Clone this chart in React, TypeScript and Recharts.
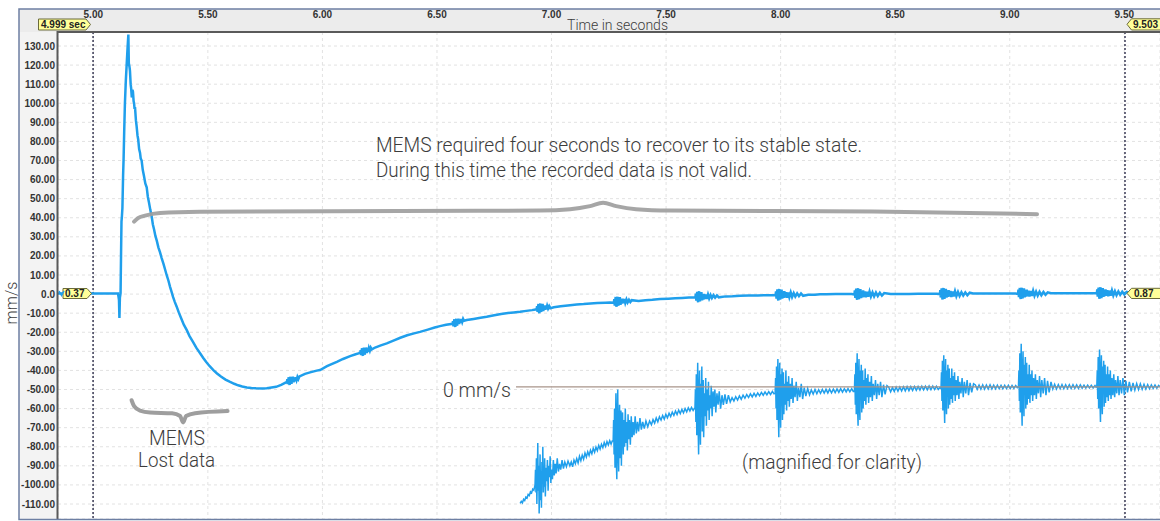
import React from "react";
import {
  ComposedChart,
  Line,
  XAxis,
  YAxis,
  CartesianGrid,
  ReferenceLine,
} from "recharts";

type Pt = [number, number];

// ---- axes ----
const T_MIN = 4.8459;
const T_MAX = 9.6558;
const V_MIN = -117.86;
const V_MAX = 137.34;
const xTicks = [5.0, 5.5, 6.0, 6.5, 7.0, 7.5, 8.0, 8.5, 9.0, 9.5];
const yTicks = [130, 120, 110, 100, 90, 80, 70, 60, 50, 40, 30, 20, 10, 0, -10, -20, -30, -40, -50, -60, -70, -80, -90, -100, -110];
const cursorStart = 4.999;
const cursorEnd = 9.503;

// ---- main recorded signal (time s, mm/s) ----
const mainImpact: Pt[] = [
  [4.846, 0.37], [4.9, 0.4], [5.0, 0.37], [5.06, 0.35], [5.108, 0.3], [5.112, -3], [5.114, -12.5], [5.116, -2],
  [5.119, 0.5], [5.121, 20], [5.123, 38], [5.125, 41], [5.127, 45], [5.13, 62], [5.132, 70], [5.135, 86],
  [5.138, 100], [5.142, 112], [5.146, 121], [5.15, 130], [5.153, 136], [5.155, 121], [5.158, 119], [5.16, 117],
  [5.163, 110], [5.165, 108], [5.168, 103], [5.171, 107], [5.173, 106], [5.176, 101], [5.178, 100], [5.18, 97],
  [5.182, 98], [5.186, 91], [5.189, 88], [5.193, 83], [5.196, 81], [5.2, 76], [5.204, 74], [5.207, 71],
  [5.211, 70], [5.216, 65], [5.221, 62], [5.227, 58], [5.233, 56], [5.238, 51], [5.243, 48], [5.249, 44],
  [5.255, 40.5], [5.26, 36.5], [5.265, 34], [5.271, 30.5], [5.277, 28], [5.284, 24.5], [5.291, 22], [5.298, 19],
  [5.306, 16], [5.313, 13], [5.32, 10], [5.328, 7], [5.335, 3.8], [5.342, 1], [5.348, -1.5], [5.356, -4.2],
  [5.364, -6.6], [5.373, -9.6], [5.383, -12.5], [5.395, -16], [5.408, -18.9], [5.42, -22], [5.435, -25], [5.45, -28.2],
  [5.466, -31], [5.48, -33.5], [5.492, -35.5], [5.508, -37.8], [5.524, -39.8], [5.54, -41.6], [5.557, -43.2], [5.577, -44.8],
  [5.597, -46], [5.615, -47], [5.632, -47.8], [5.65, -48.4], [5.67, -48.9], [5.69, -49.2], [5.71, -49.4], [5.735, -49.5],
  [5.757, -49.4], [5.778, -49], [5.798, -48.6], [5.82, -47.6], [5.841, -46.3],
];

const mainMid: Pt[] = [
  [5.845, -46.0], [5.847, -44.6], [5.849, -47.2], [5.851, -45.2], [5.853, -43.6], [5.855, -46.8], [5.857, -47.6], [5.859, -44.4],
  [5.861, -43.4], [5.863, -46.1], [5.865, -47.0], [5.867, -44.0], [5.869, -45.5], [5.871, -43.3], [5.874, -46.2], [5.877, -44.2],
  [5.88, -45.6], [5.883, -43.6], [5.887, -45.1], [5.891, -43.4], [5.895, -44.5],
  [5.9, -43.1], [5.924, -41.8], [5.95, -40.9], [5.975, -40.1], [5.99, -39.8], [6.02, -37.8], [6.04, -36.7], [6.063, -35.5],
  [6.09, -34], [6.121, -32.5], [6.145, -31.5],
  [6.165, -30.8], [6.167, -29.4], [6.169, -32.0], [6.171, -30.0], [6.173, -28.4], [6.175, -31.6], [6.177, -32.3], [6.179, -29.0],
  [6.181, -28.1], [6.183, -30.8], [6.185, -31.7], [6.187, -28.7], [6.189, -30.2], [6.191, -28.0], [6.194, -30.9], [6.197, -28.9],
  [6.2, -30.2], [6.203, -28.3], [6.207, -29.7], [6.211, -28.1], [6.215, -29.0],
  [6.23, -28], [6.255, -26.9], [6.281, -25.8], [6.31, -24.4], [6.34, -22.9], [6.37, -21.6], [6.4, -20.6], [6.426, -19.8],
  [6.46, -18.6], [6.49, -17.5], [6.513, -16.8], [6.54, -16.1],
  [6.568, -15.6], [6.57, -14.2], [6.572, -16.9], [6.574, -14.8], [6.576, -13.2], [6.578, -16.4], [6.58, -17.2], [6.582, -13.9],
  [6.584, -13.0], [6.586, -15.7], [6.588, -16.5], [6.59, -13.5], [6.592, -15.0], [6.594, -12.9], [6.597, -15.7], [6.6, -13.7],
  [6.603, -15.0], [6.606, -13.1], [6.61, -14.6], [6.614, -13.0], [6.618, -14.0],
  [6.63, -13.6], [6.66, -13.0], [6.69, -12.4], [6.717, -11.9], [6.75, -11.1], [6.78, -10.4], [6.81, -9.9], [6.835, -9.6],
  [6.863, -9.3], [6.89, -8.8], [6.915, -8.4],
  [6.935, -8.0], [6.937, -6.3], [6.939, -9.4], [6.941, -7.1], [6.943, -5.2], [6.945, -9.0], [6.947, -10.0], [6.949, -6.1],
  [6.951, -5.0], [6.953, -8.3], [6.955, -9.4], [6.957, -5.6], [6.959, -7.4], [6.961, -5.1], [6.964, -8.9], [6.967, -6.3],
  [6.97, -8.2], [6.973, -5.9], [6.977, -8.0], [6.981, -6.1], [6.985, -7.6], [6.99, -6.3], [6.995, -7.4],
];

const mainLate: Pt[] = [
  [7.01, -6.9], [7.04, -6.4], [7.081, -5.8], [7.11, -5.4], [7.14, -5.2], [7.17, -4.9], [7.2, -4.7], [7.235, -4.5], [7.255, -4.4],
  [7.272, -4.5], [7.274, -2.6], [7.276, -6.0], [7.278, -3.5], [7.28, -1.5], [7.282, -5.7], [7.284, -6.6], [7.286, -2.3],
  [7.288, -1.4], [7.29, -5.0], [7.292, -6.1], [7.294, -2.0], [7.296, -4.1], [7.298, -1.6], [7.301, -5.6], [7.304, -2.6],
  [7.307, -5.0], [7.31, -2.4], [7.314, -4.8], [7.318, -2.6], [7.322, -4.6], [7.327, -2.8], [7.332, -4.4], [7.338, -3.0],
  [7.344, -4.2], [7.35, -3.2],
  [7.38, -3.6], [7.41, -3.2], [7.44, -3.0], [7.474, -2.6], [7.51, -2.4], [7.54, -2.2], [7.57, -2.0], [7.6, -1.8],
  [7.628, -1.8], [7.63, 0.2], [7.632, -3.4], [7.634, -0.8], [7.636, 1.2], [7.638, -3.2], [7.64, -4.2], [7.642, 0.4],
  [7.644, 1.4], [7.646, -2.5], [7.648, -3.8], [7.65, 0.6], [7.652, -1.5], [7.654, 1.1], [7.657, -3.3], [7.66, -0.3],
  [7.663, -2.9], [7.666, 0.1], [7.67, -2.6], [7.674, -0.2], [7.678, -2.5], [7.683, -0.3], [7.688, -2.3], [7.694, -0.5],
  [7.7, -2.1], [7.707, -0.6], [7.714, -1.9], [7.722, -0.7], [7.73, -1.7],
  [7.76, -1.2], [7.79, -1.1], [7.823, -0.9], [7.86, -0.8], [7.9, -0.7], [7.94, -0.6], [7.965, -0.6],
  [7.978, -0.6], [7.98, 1.4], [7.982, -2.4], [7.984, 0.3], [7.986, 2.5], [7.988, -2.2], [7.99, -3.3], [7.992, 1.6],
  [7.994, 2.6], [7.996, -1.4], [7.998, -2.9], [8.0, 1.8], [8.002, -0.3], [8.004, 2.3], [8.007, -2.4], [8.01, 0.9],
  [8.013, -2.0], [8.016, 1.5], [8.02, -1.8], [8.024, 1.0], [8.028, -1.9], [8.033, 0.8], [8.038, -1.6], [8.044, 0.9],
  [8.05, -1.5], [8.057, 0.5], [8.064, -1.3], [8.072, 0.4], [8.08, -1.1], [8.089, 0.3], [8.098, -0.9],
  [8.12, -0.3], [8.15, -0.3], [8.172, -0.1], [8.2, -0.1], [8.24, 0], [8.28, 0], [8.31, 0],
  [8.322, -0.2], [8.324, 1.9], [8.326, -2.0], [8.328, 0.8], [8.33, 2.9], [8.332, -1.8], [8.334, -3.0], [8.336, 2.0],
  [8.338, 3.0], [8.34, -1.1], [8.342, -2.7], [8.344, 2.2], [8.346, 0.1], [8.348, 2.6], [8.351, -2.1], [8.354, 1.3],
  [8.357, -1.7], [8.36, 1.9], [8.364, -1.5], [8.368, 1.4], [8.372, -1.7], [8.377, 1.2], [8.382, -1.4], [8.388, 1.3],
  [8.394, -1.3], [8.401, 0.9], [8.408, -1.2], [8.416, 0.8], [8.424, -1.0], [8.433, 0.7], [8.442, -0.8], [8.452, 0.5],
  [8.48, 0.1], [8.521, 0.1], [8.56, 0.1], [8.6, 0.2], [8.64, 0.2], [8.68, 0.2],
  [8.695, 0.0], [8.697, 2.1], [8.699, -1.8], [8.701, 1.0], [8.703, 3.0], [8.705, -1.6], [8.707, -2.8], [8.709, 2.2],
  [8.711, 3.1], [8.713, -0.9], [8.715, -2.5], [8.717, 2.4], [8.719, 0.3], [8.721, 2.8], [8.724, -1.9], [8.727, 1.5],
  [8.73, -1.5], [8.733, 2.1], [8.737, -1.3], [8.741, 1.6], [8.745, -1.5], [8.75, 1.4], [8.755, -1.2], [8.761, 1.5],
  [8.767, -1.1], [8.774, 1.1], [8.781, -1.0], [8.789, 1.0], [8.797, -0.8], [8.806, 0.9], [8.815, -0.6], [8.825, 0.7],
  [8.84, 0.3], [8.87, 0.3], [8.892, 0.3], [8.93, 0.3], [8.97, 0.3], [9.0, 0.3], [9.025, 0.3],
  [9.036, 0.1], [9.038, 2.3], [9.04, -1.6], [9.042, 1.2], [9.044, 3.2], [9.046, -1.4], [9.048, -2.6], [9.05, 2.4],
  [9.052, 3.3], [9.054, -0.7], [9.056, -2.3], [9.058, 2.6], [9.06, 0.5], [9.062, 3.0], [9.065, -1.7], [9.068, 1.7],
  [9.071, -1.3], [9.074, 2.3], [9.078, -1.1], [9.082, 1.8], [9.086, -1.3], [9.091, 1.6], [9.096, -1.0], [9.102, 1.7],
  [9.108, -0.9], [9.115, 1.3], [9.122, -0.8], [9.13, 1.2], [9.138, -0.6], [9.147, 1.1], [9.156, -0.4], [9.166, 0.9],
  [9.18, 0.5], [9.22, 0.4], [9.26, 0.5], [9.3, 0.4], [9.34, 0.5], [9.37, 0.5],
  [9.38, 0.3], [9.382, 2.5], [9.384, -1.4], [9.386, 1.4], [9.388, 3.4], [9.39, -1.2], [9.392, -2.4], [9.394, 2.6],
  [9.396, 3.5], [9.398, -0.5], [9.4, -2.1], [9.402, 2.8], [9.404, 0.7], [9.406, 3.2], [9.409, -1.5], [9.412, 1.9],
  [9.415, -1.1], [9.418, 2.5], [9.422, -0.9], [9.426, 2.0], [9.43, -1.1], [9.435, 1.8], [9.44, -0.8], [9.446, 1.9],
  [9.452, -0.7], [9.459, 1.5], [9.466, -0.6], [9.474, 1.4], [9.482, -0.4], [9.491, 1.3], [9.5, -0.2], [9.51, 1.1],
  [9.525, 0.7], [9.56, 0.8], [9.6, 0.7], [9.656, 0.8],
];

// ---- magnified trace (drawn against its own "0 mm/s" line at -48.6) ----
const magEarly: Pt[] = [
  [6.863, -109.7], [6.868, -108.6], [6.873, -109.4], [6.878, -107.5], [6.883, -108.2], [6.888, -106.4], [6.893, -106.9], [6.898, -105],
  [6.903, -105.6], [6.908, -103.6], [6.913, -104.2], [6.918, -102.2], [6.923, -102.8], [6.926, -101],
  [6.928, -100], [6.93, -92], [6.932, -104], [6.934, -86], [6.936, -110], [6.938, -95], [6.94, -78], [6.942, -103],
  [6.944, -90], [6.946, -115], [6.948, -97], [6.95, -84], [6.952, -108], [6.954, -93], [6.956, -112], [6.958, -88],
  [6.96, -99], [6.962, -80], [6.964, -104], [6.966, -92], [6.968, -101], [6.97, -86], [6.973, -106], [6.976, -91],
  [6.979, -98], [6.982, -87], [6.985, -103], [6.988, -90], [6.991, -96], [6.994, -85], [6.997, -99], [7.0, -92],
  [7.004, -97], [7.008, -87], [7.012, -95], [7.016, -89], [7.02, -94], [7.025, -86], [7.03, -93], [7.035, -89],
  [7.04, -92], [7.046, -87], [7.052, -91.5], [7.058, -88], [7.065, -90.5], [7.072, -87.5], [7.08, -90],
  [7.086, -88], [7.092, -90.5], [7.098, -87], [7.104, -88.8], [7.11, -86.2], [7.116, -88.5], [7.122, -85], [7.128, -87.3],
  [7.134, -84.4], [7.14, -86.5], [7.146, -83.3], [7.152, -85.4], [7.158, -82.6], [7.164, -84.6], [7.17, -81.8], [7.176, -83.7],
  [7.182, -80.8], [7.188, -82.9], [7.194, -80.2], [7.2, -82], [7.206, -79.3], [7.212, -81.2], [7.218, -78.7], [7.224, -80.5],
  [7.23, -77.8], [7.236, -79.8], [7.242, -77.3], [7.248, -79.1], [7.254, -76.8], [7.26, -78.6], [7.265, -77],
  [7.269, -77], [7.271, -66], [7.273, -84], [7.275, -60], [7.277, -91], [7.279, -72], [7.281, -52], [7.283, -88],
  [7.285, -97], [7.287, -64], [7.289, -50], [7.291, -82], [7.293, -93], [7.295, -68], [7.297, -58], [7.299, -86],
  [7.301, -75], [7.303, -61], [7.305, -90], [7.307, -70], [7.31, -62], [7.313, -84], [7.316, -66], [7.319, -80],
  [7.322, -60], [7.325, -78], [7.328, -67], [7.331, -82], [7.334, -63], [7.337, -76], [7.34, -66], [7.344, -79],
  [7.348, -64], [7.352, -75], [7.356, -67], [7.36, -74], [7.365, -64], [7.37, -73], [7.375, -67], [7.38, -72],
  [7.386, -65], [7.392, -71], [7.398, -67], [7.405, -70.5], [7.412, -66.5], [7.42, -69.5], [7.428, -66.5],
];

const magMid: Pt[] = [
  [7.436, -68.5], [7.443, -65.8], [7.45, -67.6], [7.457, -64.9], [7.464, -66.9], [7.471, -64.3], [7.478, -66], [7.485, -63.6],
  [7.492, -65.5], [7.499, -63], [7.506, -64.8], [7.513, -62.4], [7.52, -64.2], [7.527, -61.9], [7.534, -63.6], [7.541, -61.3],
  [7.548, -63.1], [7.555, -60.8], [7.562, -62.6], [7.569, -60.4], [7.576, -62.2], [7.583, -60], [7.59, -61.7], [7.597, -59.6],
  [7.604, -61.3], [7.611, -59.4], [7.618, -61], [7.623, -60],
  [7.626, -60], [7.628, -50], [7.63, -67], [7.632, -42], [7.634, -74], [7.636, -58], [7.638, -36], [7.64, -70],
  [7.642, -84], [7.644, -52], [7.646, -40], [7.648, -66], [7.65, -79], [7.652, -47], [7.654, -62], [7.656, -38],
  [7.658, -72], [7.66, -55], [7.662, -45], [7.664, -75], [7.667, -52], [7.67, -64], [7.673, -44], [7.676, -69],
  [7.679, -50], [7.682, -61], [7.685, -46], [7.688, -66], [7.691, -53], [7.694, -60], [7.697, -48], [7.701, -64],
  [7.705, -51], [7.709, -59], [7.713, -50], [7.717, -62], [7.722, -52], [7.727, -58], [7.732, -51], [7.738, -60],
  [7.744, -53], [7.75, -58], [7.757, -52.5], [7.764, -57.5], [7.772, -53],
  [7.78, -56.5], [7.788, -54.3], [7.796, -56], [7.804, -53.8], [7.812, -55.5], [7.82, -53.4], [7.828, -55.1], [7.836, -53],
  [7.844, -54.6], [7.852, -52.6], [7.86, -54.2], [7.868, -52.3], [7.876, -53.9], [7.884, -52], [7.892, -53.6], [7.9, -51.8],
  [7.908, -53.3], [7.916, -51.5], [7.924, -53], [7.932, -51.3], [7.94, -52.8], [7.948, -51.1], [7.956, -52.6], [7.964, -51],
  [7.971, -52.3],
  [7.976, -52], [7.978, -44], [7.98, -60], [7.982, -38], [7.984, -66], [7.986, -50], [7.988, -34], [7.99, -62],
  [7.992, -75], [7.994, -46], [7.996, -36], [7.998, -58], [8.0, -70], [8.002, -42], [8.004, -55], [8.006, -39],
  [8.008, -66], [8.01, -49], [8.012, -41], [8.014, -63], [8.017, -47], [8.02, -58], [8.023, -40], [8.026, -61],
  [8.029, -46], [8.032, -56], [8.035, -43], [8.038, -59], [8.042, -47], [8.046, -55], [8.05, -44], [8.054, -57],
  [8.058, -48], [8.063, -54], [8.068, -46], [8.073, -56], [8.078, -49], [8.084, -54], [8.09, -47], [8.096, -55],
  [8.103, -49], [8.11, -53.5], [8.118, -49.5],
  [8.126, -52.8], [8.134, -50.2], [8.142, -52.4], [8.15, -50], [8.158, -52.2], [8.166, -50.1], [8.174, -52], [8.182, -50],
  [8.19, -51.9], [8.198, -49.9], [8.206, -51.8], [8.214, -49.8], [8.222, -51.7], [8.23, -49.8], [8.238, -51.6], [8.246, -49.7],
  [8.254, -51.5], [8.262, -49.6], [8.27, -51.4], [8.278, -49.6], [8.286, -51.3], [8.294, -49.5], [8.302, -51.2], [8.31, -49.6],
  [8.317, -51],
  [8.322, -51], [8.324, -42], [8.326, -58], [8.328, -36], [8.33, -63], [8.332, -48], [8.334, -31], [8.336, -60],
  [8.338, -69], [8.34, -44], [8.342, -34], [8.344, -57], [8.346, -66], [8.348, -40], [8.35, -52], [8.352, -37],
  [8.354, -62], [8.356, -47], [8.358, -40], [8.36, -60], [8.363, -45], [8.366, -56], [8.369, -39], [8.372, -58],
  [8.375, -44], [8.378, -54], [8.381, -42], [8.384, -57], [8.388, -46], [8.392, -54], [8.396, -43], [8.4, -56],
  [8.404, -47], [8.409, -53], [8.414, -45], [8.419, -55], [8.424, -47], [8.43, -53], [8.436, -46], [8.442, -54],
  [8.449, -47.5], [8.456, -52.5], [8.464, -48],
];

const magLate: Pt[] = [
  [8.472, -48.8], [8.48, -51.2], [8.488, -49], [8.496, -51], [8.504, -48.8], [8.512, -50.9], [8.52, -48.7], [8.528, -50.8],
  [8.536, -48.6], [8.544, -50.7], [8.552, -48.5], [8.56, -50.6], [8.568, -48.5], [8.576, -50.5], [8.584, -48.4], [8.592, -50.4],
  [8.6, -48.4], [8.608, -50.3], [8.616, -48.3], [8.624, -50.2], [8.632, -48.3], [8.64, -50.2], [8.648, -48.2], [8.656, -50.1],
  [8.664, -48.2], [8.672, -50], [8.68, -48.3], [8.688, -50], [8.695, -49],
  [8.7, -49.5], [8.702, -41], [8.704, -56], [8.706, -35], [8.708, -61], [8.71, -47], [8.712, -32], [8.714, -58],
  [8.716, -67.5], [8.718, -43], [8.72, -34], [8.722, -55], [8.724, -63], [8.726, -40], [8.728, -51], [8.73, -37],
  [8.732, -60], [8.734, -46], [8.736, -39], [8.738, -58], [8.741, -44], [8.744, -55], [8.747, -39], [8.75, -57],
  [8.753, -43], [8.756, -53], [8.759, -41], [8.762, -56], [8.766, -45], [8.77, -53], [8.774, -43], [8.778, -55],
  [8.782, -46], [8.787, -52], [8.792, -44], [8.797, -54], [8.802, -46], [8.808, -52], [8.814, -45], [8.82, -53],
  [8.827, -46.5], [8.834, -51.5], [8.842, -47],
  [8.85, -47.6], [8.858, -49.9], [8.866, -47.7], [8.874, -49.8], [8.882, -47.6], [8.89, -49.8], [8.898, -47.7], [8.906, -49.7],
  [8.914, -47.6], [8.922, -49.7], [8.93, -47.7], [8.938, -49.6], [8.946, -47.7], [8.954, -49.6], [8.962, -47.8], [8.97, -49.6],
  [8.978, -47.8], [8.986, -49.5], [8.994, -47.8], [9.002, -49.5], [9.01, -47.9], [9.018, -49.4], [9.026, -47.9], [9.033, -49],
  [9.038, -48.5], [9.04, -40], [9.042, -56], [9.044, -31], [9.046, -62], [9.048, -45], [9.05, -26], [9.052, -58],
  [9.054, -69], [9.056, -40], [9.058, -30], [9.06, -54], [9.062, -64], [9.064, -37], [9.066, -50], [9.068, -33],
  [9.07, -60], [9.072, -44], [9.074, -36], [9.076, -58], [9.079, -42], [9.082, -55], [9.085, -37], [9.088, -57],
  [9.091, -42], [9.094, -53], [9.097, -40], [9.1, -56], [9.104, -44], [9.108, -53], [9.112, -42], [9.116, -55],
  [9.12, -45], [9.125, -52], [9.13, -43], [9.135, -54], [9.14, -45], [9.146, -52], [9.152, -44], [9.158, -53],
  [9.165, -45.5], [9.172, -51.5], [9.18, -46],
  [9.188, -49.8], [9.196, -47.3], [9.204, -49.7], [9.212, -47.4], [9.22, -49.6], [9.228, -47.4], [9.236, -49.6], [9.244, -47.5],
  [9.252, -49.5], [9.26, -47.5], [9.268, -49.5], [9.276, -47.5], [9.284, -49.4], [9.292, -47.6], [9.3, -49.4], [9.308, -47.6],
  [9.316, -49.3], [9.324, -47.7], [9.332, -49.3], [9.34, -47.7], [9.348, -49.2], [9.356, -47.8], [9.364, -49.2], [9.372, -47.9],
  [9.377, -48.8],
  [9.38, -48.5], [9.382, -40], [9.384, -55], [9.386, -33], [9.388, -60], [9.39, -45], [9.392, -29], [9.394, -57],
  [9.396, -67], [9.398, -41], [9.4, -32], [9.402, -54], [9.404, -63], [9.406, -38], [9.408, -50], [9.41, -35],
  [9.412, -59], [9.414, -44], [9.416, -37], [9.418, -57], [9.421, -42], [9.424, -54], [9.427, -38], [9.43, -56],
  [9.433, -42], [9.436, -53], [9.439, -40], [9.442, -55], [9.446, -44], [9.45, -53], [9.454, -42], [9.458, -54],
  [9.462, -45], [9.467, -52], [9.472, -43], [9.477, -53], [9.482, -45], [9.488, -52], [9.494, -44], [9.5, -53],
  [9.507, -45.5], [9.514, -51.5], [9.522, -46], [9.53, -51], [9.538, -46.5],
  [9.546, -50.3], [9.554, -46.9], [9.562, -50], [9.57, -47.1], [9.578, -49.9], [9.586, -47.3], [9.594, -49.7], [9.602, -47.4],
  [9.61, -49.6], [9.618, -47.6], [9.626, -49.4], [9.634, -47.7], [9.642, -49.3], [9.65, -47.9], [9.656, -48.6],
];

const magZeroLine: Pt[] = [[6.845, -48.6], [9.656, -48.6]];

// ---- annotation braces (data coordinates) ----
const recoveryBrace: Pt[] = [
  [5.178, 38.0], [5.195, 39.8], [5.226, 41.1], [5.291, 42.5], [5.466, 43.1], [6.339, 43.5], [6.95, 43.8], [7.081, 44.5],
  [7.168, 46.1], [7.225, 47.8], [7.282, 46.1], [7.369, 44.5], [7.517, 43.8], [8.403, 43.3], [9.119, 41.9],
];
const lostBrace: Pt[] = [
  [5.167, -55.6], [5.178, -58.7], [5.204, -61.1], [5.248, -62.1], [5.344, -62.5], [5.379, -63.9], [5.392, -67.3],
  [5.405, -63.9], [5.444, -62.4], [5.586, -61.3],
];

const toRows = (pts: Pt[]) => pts.map(([t, v]) => ({ t, v }));

const mainData = toRows([...mainImpact, ...mainMid, ...mainLate]);
const magData = toRows([...magEarly, ...magMid, ...magLate]);

const BLUE = "#1f9fec";
const AXIS_FONT = "'Liberation Sans', Arial, sans-serif";
const NOTE_FONT = "Roboto, 'Noto Sans', sans-serif";

const XTick = (props: any) => (
  <text x={props.x} y={17.5} textAnchor="middle" fontSize={10} fontWeight="bold" fontFamily={AXIS_FONT} fill="#333">
    {Number(props.payload.value).toFixed(2)}
  </text>
);

const YTick = (props: any) => {
  const v = Number(props.payload.value);
  return (
    <text x={55} y={props.y + 3.5} textAnchor="end" fontSize={10} fontWeight="bold" fontFamily={AXIS_FONT} fill="#333">
      {v === 0 ? "0.0" : v.toFixed(2)}
    </text>
  );
};

const Note = ({ x, y, w, size = 20, children }: any) => (
  <text x={x} y={y} textLength={w} lengthAdjust="spacingAndGlyphs" fontSize={size} fontWeight={300} fontFamily={NOTE_FONT} fill="#3c3c3c">
    {children}
  </text>
);

const flagText = { fontSize: 10, fontWeight: "bold" as const, fontFamily: AXIS_FONT, fill: "#222" };

export default function App() {
  return (
    <div style={{ position: "fixed", left: 0, top: 0, width: 1160, height: 521, background: "#fff", overflow: "hidden" }}>
      {/* panel backgrounds */}
      <div style={{ position: "absolute", left: 19, top: 9, width: 1141, height: 23, background: "#ececec" }} />
      <div style={{ position: "absolute", left: 19, top: 32, width: 39, height: 487, background: "#f3f3f3" }} />
      <div style={{ position: "absolute", left: 0, top: 0 }}>
        <ComposedChart width={1160} height={521} margin={{ top: 9, right: 0, bottom: 2, left: 19 }}>
          <CartesianGrid stroke="#e2e2e2" strokeDasharray="3 3" />
          <XAxis
            type="number"
            dataKey="t"
            orientation="top"
            domain={[T_MIN, T_MAX]}
            ticks={xTicks}
            interval={0}
            allowDataOverflow
            height={23}
            axisLine={false}
            tickLine={false}
            tick={<XTick />}
          />
          <YAxis
            type="number"
            domain={[V_MIN, V_MAX]}
            ticks={yTicks}
            interval={0}
            allowDataOverflow
            width={39}
            axisLine={false}
            tickLine={false}
            tick={<YTick />}
          />
          <ReferenceLine x={cursorStart} stroke="#3a3a55" strokeWidth={1.5} strokeDasharray="2 2" />
          <ReferenceLine x={cursorEnd} stroke="#3a3a55" strokeWidth={1.5} strokeDasharray="2 2" />
          <Line data={mainData} dataKey="v" type="linear" stroke={BLUE} strokeWidth={2.5} dot={false} isAnimationActive={false} />
          <Line data={magData} dataKey="v" type="linear" stroke={BLUE} strokeWidth={1.5} dot={false} isAnimationActive={false} />
          <Line data={toRows(magZeroLine)} dataKey="v" type="linear" stroke="#a8948a" strokeWidth={1.4} dot={false} isAnimationActive={false} />
          <Line data={toRows(recoveryBrace)} dataKey="v" type="monotone" stroke="#9e9e9e" strokeOpacity={0.92} strokeWidth={4} strokeLinecap="round" dot={false} isAnimationActive={false} />
          <Line data={toRows(lostBrace)} dataKey="v" type="monotone" stroke="#9e9e9e" strokeWidth={4} strokeLinecap="round" dot={false} isAnimationActive={false} />
        </ComposedChart>
      </div>
      {/* frame, flags, notes */}
      <svg width={1160} height={521} style={{ position: "absolute", left: 0, top: 0, pointerEvents: "none" }}>
        <line x1={57.5} y1={32} x2={1160} y2={32} stroke="#5a5a5a" strokeWidth={2} />
        <line x1={57.5} y1={31} x2={57.5} y2={519} stroke="#5a5a5a" strokeWidth={2} />
        <rect x={19} y={9} width={1150} height={510.5} fill="none" stroke="#6d7fa3" strokeWidth={1.5} />

        <path d="M38.5,19 H86 L90.5,24.5 L86,30 H38.5 Z" fill="#ffff99" stroke="#6b6b3a" strokeWidth={1} />
        <text x={41} y={28.2} {...flagText}>4.999 sec</text>
        <path d="M1127,24.3 L1131.5,18.8 H1162 V30 H1131.5 Z" fill="#ffff99" stroke="#6b6b3a" strokeWidth={1} />
        <text x={1133} y={28.3} {...flagText}>9.503</text>
        <path d="M63,288.5 H87 L91.5,293.5 L87,298.5 H63 Z" fill="#ffff99" stroke="#6b6b3a" strokeWidth={1} />
        <text x={65} y={297.2} {...flagText}>0.37</text>
        <path d="M1127,293.3 L1131.5,288.3 H1162 V298.5 H1131.5 Z" fill="#ffff99" stroke="#6b6b3a" strokeWidth={1} />
        <text x={1134} y={297.2} {...flagText}>0.87</text>
        <path d="M59,291 L61.5,295.5 L64,291" fill="none" stroke={BLUE} strokeWidth={1.5} />

        <Note x={567} y={30} w={101} size={14}>Time in seconds</Note>
        <text
          x={0}
          y={0}
          transform="translate(16.5,303) rotate(-90)"
          textAnchor="middle"
          fontSize={16}
          fontWeight={300}
          fontFamily={NOTE_FONT}
          fill="#3c3c3c"
        >
          mm/s
        </text>
        <Note x={376} y={152} w={486}>MEMS required four seconds to recover to its stable state.</Note>
        <Note x={376} y={177} w={376}>During this time the recorded data is not valid.</Note>
        <Note x={149} y={445} w={56}>MEMS</Note>
        <Note x={138} y={467} w={77}>Lost data</Note>
        <Note x={443} y={397} w={68}>0 mm/s</Note>
        <Note x={742} y={469} w={180}>(magnified for clarity)</Note>
      </svg>
    </div>
  );
}
